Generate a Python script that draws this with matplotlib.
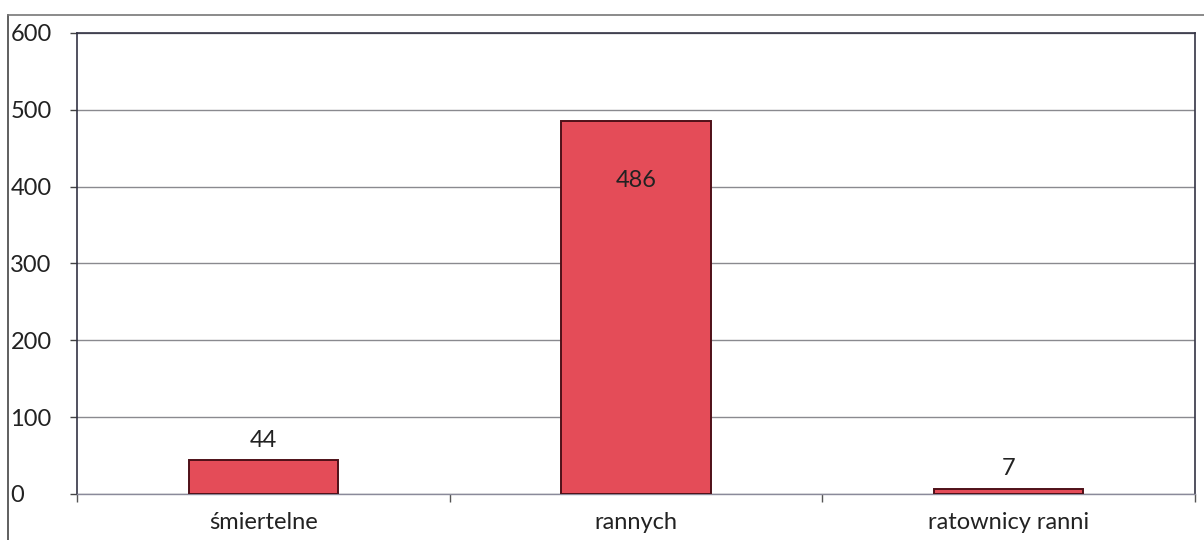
import matplotlib.pyplot as plt
from matplotlib.lines import Line2D
import numpy as np

# data
categories = ['śmiertelne', 'rannych', 'ratownicy ranni']
values = [44, 486, 7]
yticks = [0, 100, 200, 300, 400, 500, 600]

plt.rcParams['font.family'] = ['Lato', 'DejaVu Sans']
FS = 17

fig = plt.figure(figsize=(12.04, 5.40), dpi=100)
ax = fig.add_axes([0.064, 0.0852, 0.9285, 0.8537])

x = np.arange(len(categories))
bars = ax.bar(x, values, width=0.4, color='#e44c58', edgecolor='#4e1018',
              linewidth=1.4, zorder=3)

# value labels (inside end for tall bar, above for the small ones)
for b, v in zip(bars, values):
    cx = b.get_x() + b.get_width() / 2
    if v > 300:
        ax.text(cx, v - 92, str(v), ha='center', va='bottom', fontsize=FS, color='#222222', zorder=4)
    else:
        ax.text(cx, v + 12, str(v), ha='center', va='bottom', fontsize=FS, color='#222222', zorder=4)

ax.set_xlim(-0.5, len(categories) - 0.5)
ax.set_ylim(0, 600)
ax.set_yticks(yticks)
ax.set_yticklabels([str(t) for t in yticks], ha='left', fontsize=FS, color='#222222')
ax.tick_params(axis='y', length=5, width=1, color='#444444', pad=43)

ax.set_xticks(x)
ax.set_xticklabels(categories, fontsize=FS, color='#222222')
ax.tick_params(axis='x', which='major', length=0, pad=13)
ax.set_xticks(np.arange(-0.5, len(categories), 1.0), minor=True)
ax.tick_params(axis='x', which='minor', length=6, width=1, color='#555555')

ax.grid(axis='y', color='#8a8a8f', linewidth=1.0, zorder=0)
for s in ['left', 'right', 'top']:
    ax.spines[s].set_color('#333344')
    ax.spines[s].set_linewidth(1.2)
ax.spines['bottom'].set_color('#8a8a9a')
ax.spines['bottom'].set_linewidth(1.0)

# outer frame of the chart area
fig.add_artist(Line2D([8 / 1204, 8 / 1204], [0, 1 - 15 / 540], color='#444444', linewidth=1.2))
fig.add_artist(Line2D([8 / 1204, 1], [1 - 15 / 540, 1 - 15 / 540], color='#777777', linewidth=1.2))

fig.savefig('out.png', dpi=100)
